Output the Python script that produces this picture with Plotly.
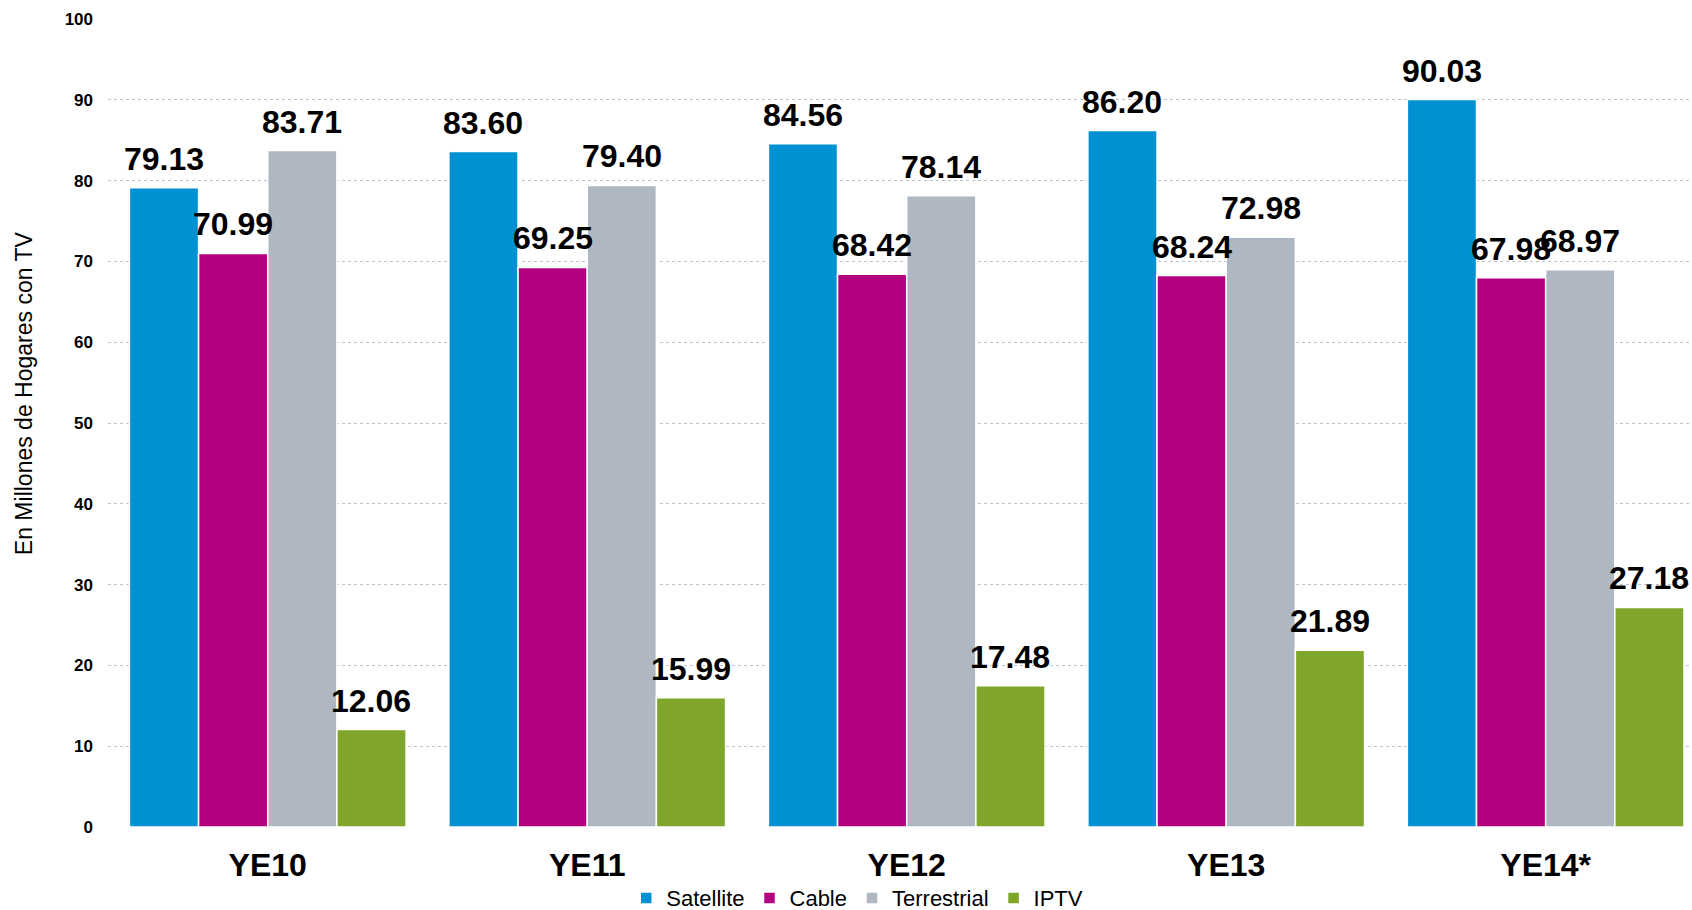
import plotly.graph_objects as go

categories = ['YE10', 'YE11', 'YE12', 'YE13', 'YE14*']
series = ['Satellite', 'Cable', 'Terrestrial', 'IPTV']
satellite = [79.13, 83.60, 84.56, 86.20, 90.03]
cable = [70.99, 69.25, 68.42, 68.24, 67.98]
terrestrial = [83.71, 79.40, 78.14, 72.98, 68.97]
iptv = [12.06, 15.99, 17.48, 21.89, 27.18]
y_ticks = [0, 10, 20, 30, 40, 50, 60, 70, 80, 90, 100]

values = [satellite, cable, terrestrial, iptv]
colors = ['#0091D3', '#B3007F', '#AFB8C2', '#7FA52A']
FONT = 'Liberation Sans, Arial, sans-serif'

bargap = 0.134
bar_w = (1 - bargap) / len(series)

fig = go.Figure()
for name, vals, color in zip(series, values, colors):
    fig.add_trace(go.Bar(
        x=categories,
        y=vals,
        name=name,
        marker=dict(color=color, line=dict(color='white', width=1.5)),
    ))

# value labels above each bar
annotations = []
for j, vals in enumerate(values):
    off = (j - (len(series) - 1) / 2) * bar_w
    for i, v in enumerate(vals):
        annotations.append(dict(
            x=i + off, y=v, xref='x', yref='y',
            text='<b>%.2f</b>' % v,
            showarrow=False, yanchor='bottom', yshift=9,
            font=dict(family=FONT, size=32, color='black'),
        ))

# y axis title
annotations.append(dict(
    x=-0.053, y=0.537, xref='paper', yref='paper',
    text='En Millones de Hogares con TV', textangle=-90,
    showarrow=False, xanchor='center', yanchor='middle',
    font=dict(family=FONT, size=23, color='black'),
))

fig.update_layout(
    barmode='group',
    bargap=bargap,
    bargroupgap=0,
    width=1692,
    height=910,
    autosize=False,
    plot_bgcolor='white',
    paper_bgcolor='white',
    margin=dict(l=108, r=0, t=19, b=83, autoexpand=False),
    font=dict(family=FONT, color='black'),
    annotations=annotations,
    legend=dict(
        orientation='h',
        x=0.473, xanchor='center',
        y=-0.088, yanchor='middle',
        font=dict(family=FONT, size=22, color='black'),
        itemwidth=30,
    ),
    xaxis=dict(
        range=[-0.5, 4.458],
        showgrid=False,
        showline=False,
        ticks='',
        ticklabelstandoff=16,
        tickfont=dict(family=FONT, size=32, color='black', weight='bold'),
    ),
    yaxis=dict(
        range=[0, 100],
        tickvals=y_ticks,
        showgrid=True,
        gridcolor='#BCC3CC',
        griddash='dot',
        gridwidth=1,
        zeroline=False,
        showline=False,
        ticklabelstandoff=14,
        tickfont=dict(family=FONT, size=17, color='black', weight='bold'),
    ),
)

# full-window page without default body margin / scrollbars
fig.write_html('out.html', config={'displayModeBar': False},
               post_script="document.body.style.margin='0';document.body.style.overflow='hidden';")
